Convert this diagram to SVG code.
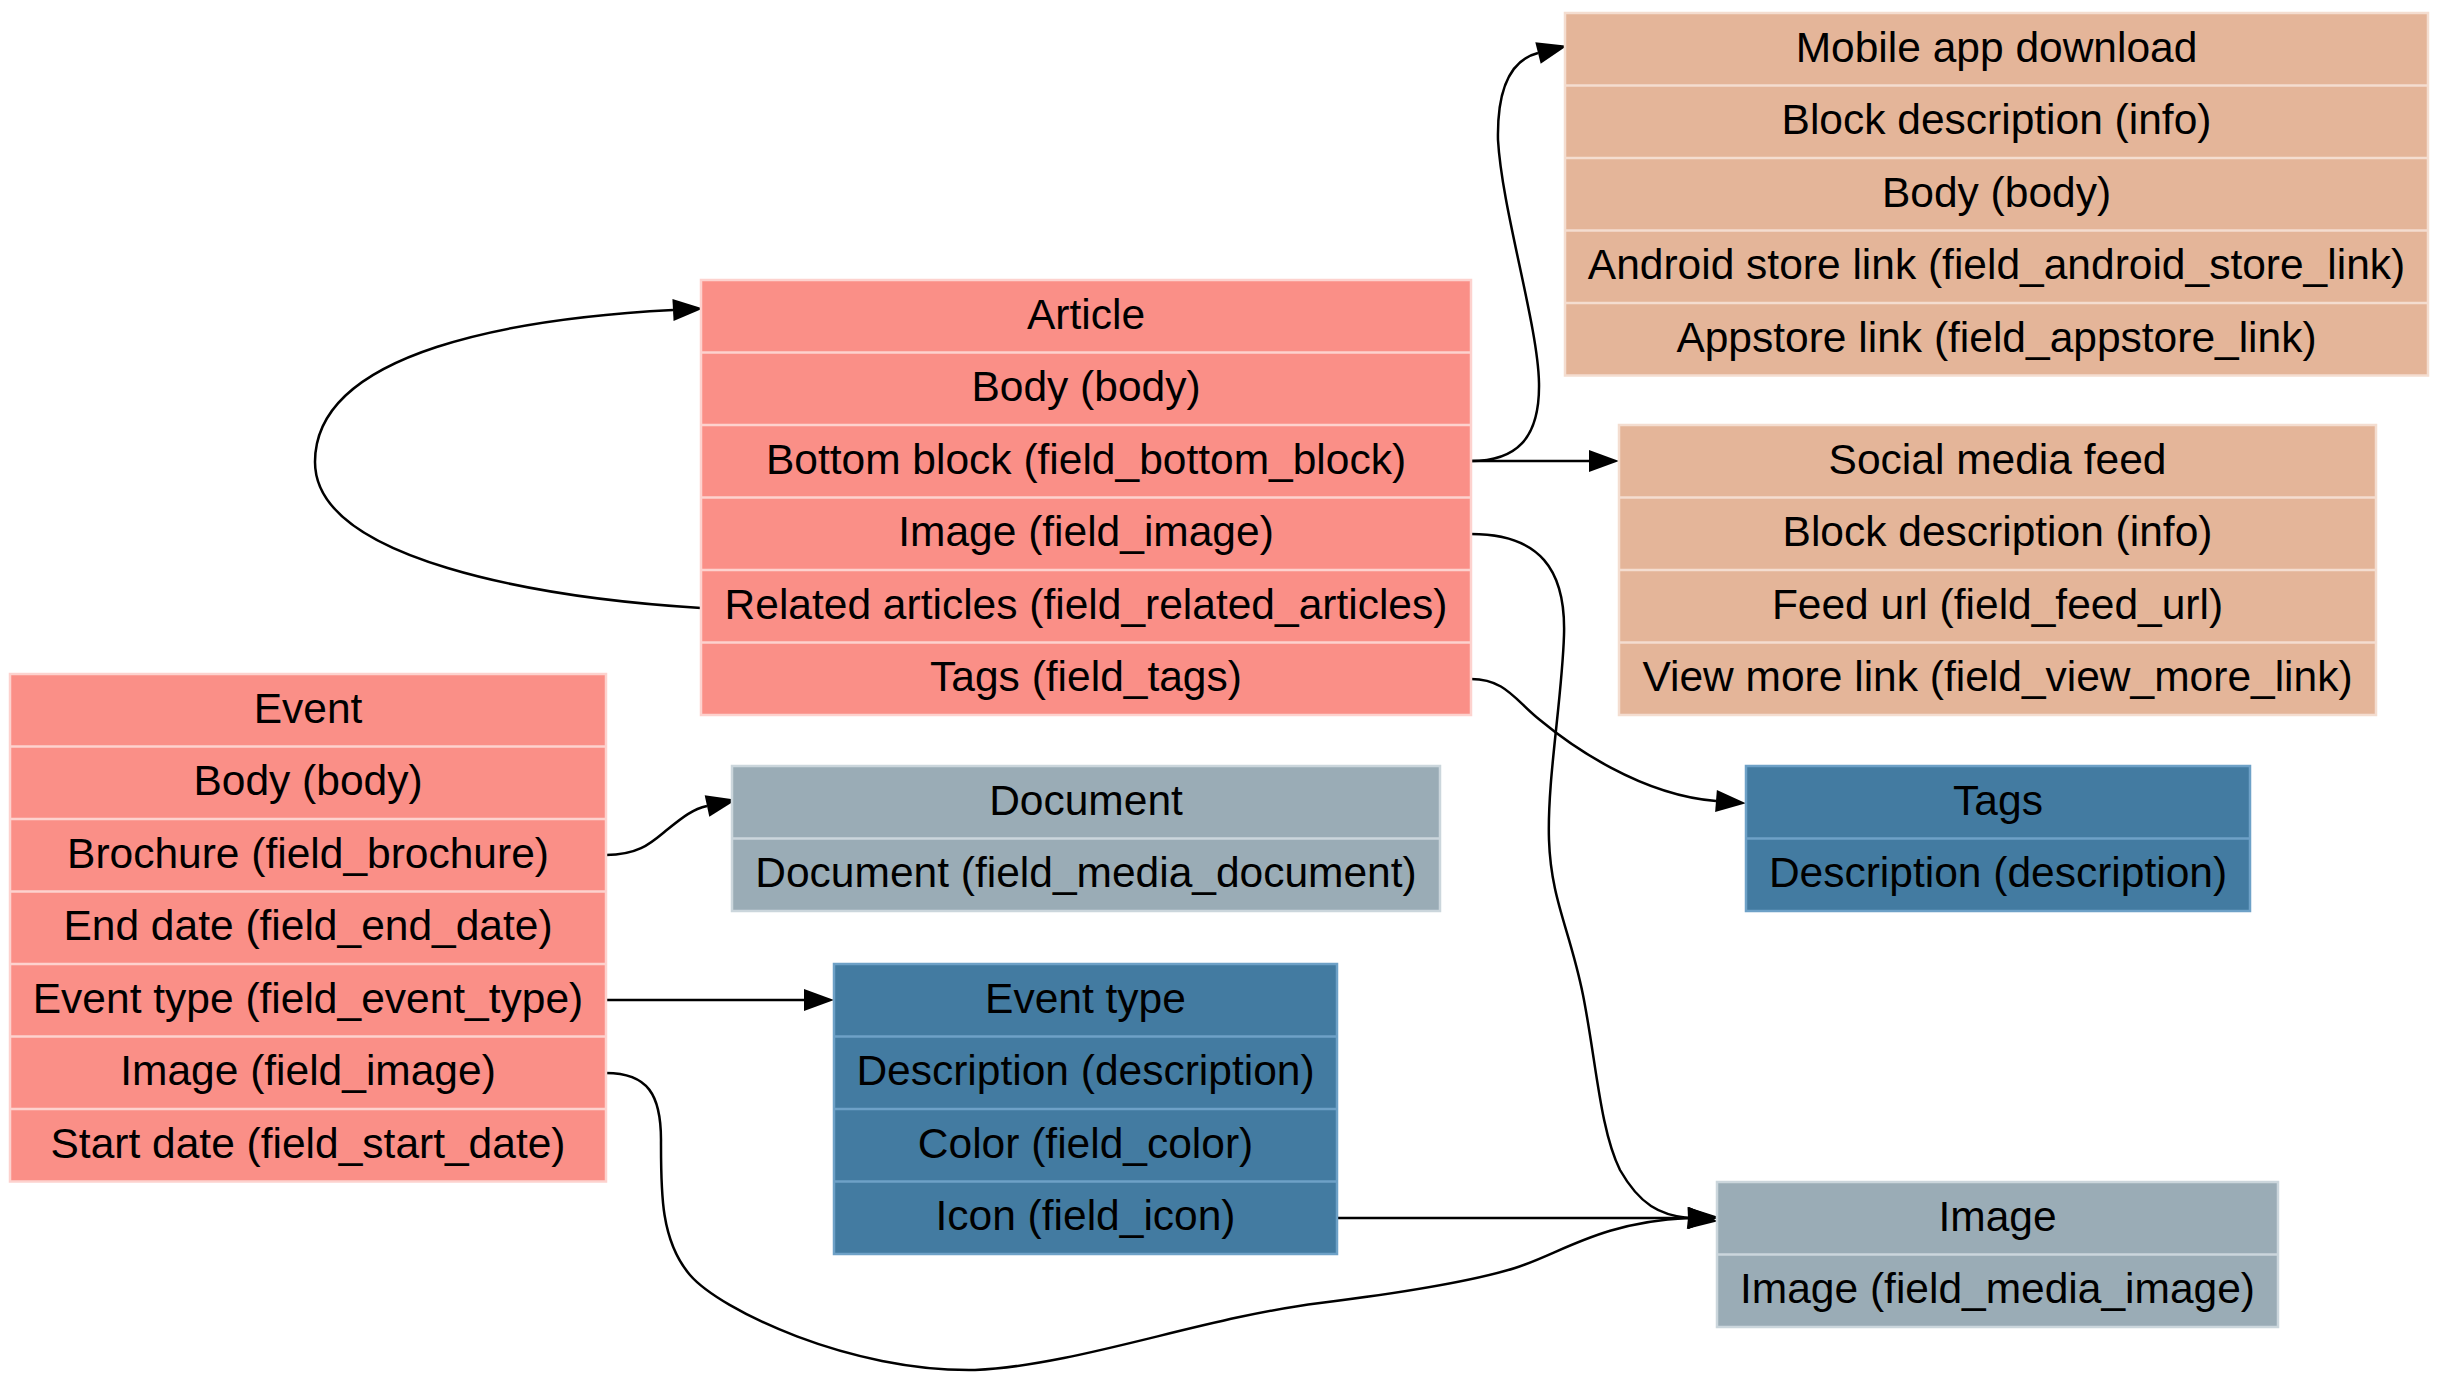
<svg xmlns="http://www.w3.org/2000/svg" width="2440" height="1382" viewBox="0 0 2440 1382">
<defs>
<style>
text{font-family:"Liberation Sans",Arial,Helvetica,sans-serif;font-size:42.5px;text-anchor:middle;fill:#000}
.node rect,.node line{stroke-width:2.5}
.salmon rect{fill:#fa8f87;stroke:#fdd2ce}
.salmon line{stroke:#fdd2ce}
.tan rect{fill:#e4b599;stroke:#f4ddd0}
.tan line{stroke:#f4ddd0}
.slate rect{fill:#9aacb6;stroke:#cbd6dc}
.slate line{stroke:#cbd6dc}
.steel rect{fill:#437ba1;stroke:#6ea1c7}
.steel line{stroke:#6ea1c7}
.edge{fill:none;stroke:#000;stroke-width:2.5;marker-end:url(#arrow)}
</style>
<marker id="arrow" markerUnits="userSpaceOnUse" markerWidth="31" markerHeight="22" refX="0" refY="11" orient="auto" overflow="visible">
<path d="M0,0 L30,11 L0,22 Z" fill="#000"/>
</marker>
</defs>
<rect width="2440" height="1382" fill="#fff"/>

<g id="connectors">
<path class="edge" d="M1471,461 C1515,461 1540,440 1539,383 C1538,325 1502,210 1498,140 C1497,90 1510,60 1538,53"/>
<path class="edge" d="M1471,461 L1589,461"/>
<path class="edge" d="M1471,534 C1540,534 1566,570 1564,635 C1562,700 1547,780 1549,840 C1551,900 1570,930 1583,995 C1596,1060 1600,1130 1620,1170 C1640,1205 1660,1215 1688,1218"/>
<path class="edge" d="M1471,679 C1505,679 1515,700 1540,720 C1570,745 1640,795 1716,801"/>
<path class="edge" d="M701,608 C540,598 315,560 315,462 C315,350 520,318 673,310"/>
<path class="edge" d="M606,855 C640,855 652,842 668,829 C683,817 693,809 707,806"/>
<path class="edge" d="M606,1000 L804,1000"/>
<path class="edge" d="M606,1073 C648,1073 661,1095 661,1140 C661,1190 660,1240 690,1275 C720,1310 850,1372 975,1370 C1080,1365 1200,1318 1320,1303 C1400,1293 1470,1282 1515,1268 C1560,1254 1600,1222 1688,1218"/>
<path class="edge" d="M1337,1218 L1688,1218"/>
</g>

<g id="node-event" class="node salmon">
<rect x="10" y="674" width="596" height="507.5"/>
<line x1="10" y1="746.5" x2="606" y2="746.5"/>
<line x1="10" y1="819" x2="606" y2="819"/>
<line x1="10" y1="891.5" x2="606" y2="891.5"/>
<line x1="10" y1="964" x2="606" y2="964"/>
<line x1="10" y1="1036.5" x2="606" y2="1036.5"/>
<line x1="10" y1="1109" x2="606" y2="1109"/>
<text x="308" y="722.5">Event</text>
<text x="308" y="795">Body (body)</text>
<text x="308" y="867.5">Brochure (field_brochure)</text>
<text x="308" y="940">End date (field_end_date)</text>
<text x="308" y="1012.5">Event type (field_event_type)</text>
<text x="308" y="1085">Image (field_image)</text>
<text x="308" y="1157.5">Start date (field_start_date)</text>
</g>

<g id="node-article" class="node salmon">
<rect x="701" y="280" width="770" height="435"/>
<line x1="701" y1="352.5" x2="1471" y2="352.5"/>
<line x1="701" y1="425" x2="1471" y2="425"/>
<line x1="701" y1="497.5" x2="1471" y2="497.5"/>
<line x1="701" y1="570" x2="1471" y2="570"/>
<line x1="701" y1="642.5" x2="1471" y2="642.5"/>
<text x="1086" y="328.5">Article</text>
<text x="1086" y="401">Body (body)</text>
<text x="1086" y="473.5">Bottom block (field_bottom_block)</text>
<text x="1086" y="546">Image (field_image)</text>
<text x="1086" y="618.5">Related articles (field_related_articles)</text>
<text x="1086" y="691">Tags (field_tags)</text>
</g>

<g id="node-mobile" class="node tan">
<rect x="1565" y="13" width="863" height="362.5"/>
<line x1="1565" y1="85.5" x2="2428" y2="85.5"/>
<line x1="1565" y1="158" x2="2428" y2="158"/>
<line x1="1565" y1="230.5" x2="2428" y2="230.5"/>
<line x1="1565" y1="303" x2="2428" y2="303"/>
<text x="1996.5" y="61.5">Mobile app download</text>
<text x="1996.5" y="134">Block description (info)</text>
<text x="1996.5" y="206.5">Body (body)</text>
<text x="1996.5" y="279">Android store link (field_android_store_link)</text>
<text x="1996.5" y="351.5">Appstore link (field_appstore_link)</text>
</g>

<g id="node-social" class="node tan">
<rect x="1619" y="425" width="757" height="290"/>
<line x1="1619" y1="497.5" x2="2376" y2="497.5"/>
<line x1="1619" y1="570" x2="2376" y2="570"/>
<line x1="1619" y1="642.5" x2="2376" y2="642.5"/>
<text x="1997.5" y="473.5">Social media feed</text>
<text x="1997.5" y="546">Block description (info)</text>
<text x="1997.5" y="618.5">Feed url (field_feed_url)</text>
<text x="1997.5" y="691">View more link (field_view_more_link)</text>
</g>

<g id="node-document" class="node slate">
<rect x="732" y="766" width="708" height="145"/>
<line x1="732" y1="838.5" x2="1440" y2="838.5"/>
<text x="1086" y="814.5">Document</text>
<text x="1086" y="887">Document (field_media_document)</text>
</g>

<g id="node-tags" class="node steel">
<rect x="1746" y="766" width="504" height="145"/>
<line x1="1746" y1="838.5" x2="2250" y2="838.5"/>
<text x="1998" y="814.5">Tags</text>
<text x="1998" y="887">Description (description)</text>
</g>

<g id="node-event-type" class="node steel">
<rect x="834" y="964" width="503" height="290"/>
<line x1="834" y1="1036.5" x2="1337" y2="1036.5"/>
<line x1="834" y1="1109" x2="1337" y2="1109"/>
<line x1="834" y1="1181.5" x2="1337" y2="1181.5"/>
<text x="1085.5" y="1012.5">Event type</text>
<text x="1085.5" y="1085">Description (description)</text>
<text x="1085.5" y="1157.5">Color (field_color)</text>
<text x="1085.5" y="1230">Icon (field_icon)</text>
</g>

<g id="node-image" class="node slate">
<rect x="1717" y="1182" width="561" height="145"/>
<line x1="1717" y1="1254.5" x2="2278" y2="1254.5"/>
<text x="1997.5" y="1230.5">Image</text>
<text x="1997.5" y="1303">Image (field_media_image)</text>
</g>
</svg>
